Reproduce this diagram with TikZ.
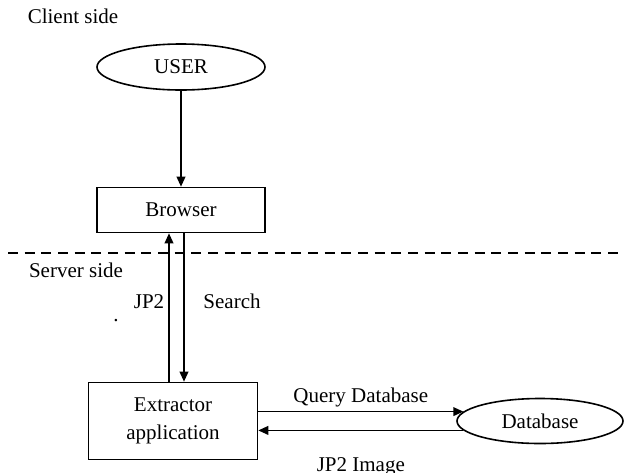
\documentclass[tikz,border=0pt]{standalone}
\usepackage{fontspec}
\setmainfont{Liberation Serif}
\usepackage{tikz}
\usetikzlibrary{positioning,calc,shapes.geometric,arrows.meta}

\begin{document}
\begin{tikzpicture}[
      x=0.75pt, y=-0.75pt,
      txt/.style={font=\fontsize{15.75}{21}\selectfont, inner sep=0pt},
      block/.style={rectangle, draw=black, line width=1.2pt, align=center, font=\fontsize{15.75}{21}\selectfont},
      oval/.style={ellipse, draw=black, line width=1.2pt, align=center, font=\fontsize{15.75}{18}\selectfont, inner sep=0pt},
      arrow/.style={-{Triangle[length=7.5pt,width=6.5pt]}, line width=1.2pt}
    ]
      \useasboundingbox (0,0) rectangle (624,472);

      % client side
      \node[txt] (client) at (73,16) {Client side};
      \node[oval, minimum width=168*0.75pt, minimum height=46*0.75pt] (user) at (181,67) {USER};
      \node[block, minimum width=168*0.75pt, minimum height=45*0.75pt] (browser) at (181,210) {Browser};

      % separator
      \coordinate (sepL) at (8,253);
      \coordinate (sepR) at (624,253);
      \draw[dashed, line width=1pt, dash pattern=on 7.5pt off 5pt] (sepL) -- (sepR);

      % server side
      \node[txt] (server) at (76,270) {Server side};
      \node[block, minimum width=169*0.75pt, minimum height=77*0.75pt] (extr) at (173,421) {Extractor\\application};
      \node[oval, minimum width=166*0.75pt, minimum height=45*0.75pt] (db) at (540,421) {Database};
      \node[txt] (dot) at (116,321) {.};

      \draw[arrow] (user.south) -- (user.south |- browser.north);
      \draw[arrow] ([xshift=-3pt]extr.north) -- ([xshift=-3pt]extr.north |- browser.south)
        node[txt, pos=0.54, left=3pt] (jp) {JP2};
      \draw[arrow] ([xshift=2.25pt]browser.south) -- ([xshift=2.25pt]browser.south |- extr.north)
        node[txt, pos=0.46, right=14pt] (search) {Search};
      \draw[arrow] (extr.east |- db.173) -- (db.173)
        node[txt, midway, above=2.6pt] (query) {Query Database};
      \draw[arrow] (db.187) -- (extr.east |- db.187)
        node[txt, midway, below=20pt] (img) {JP2 Image};
    \end{tikzpicture}
\end{document}
